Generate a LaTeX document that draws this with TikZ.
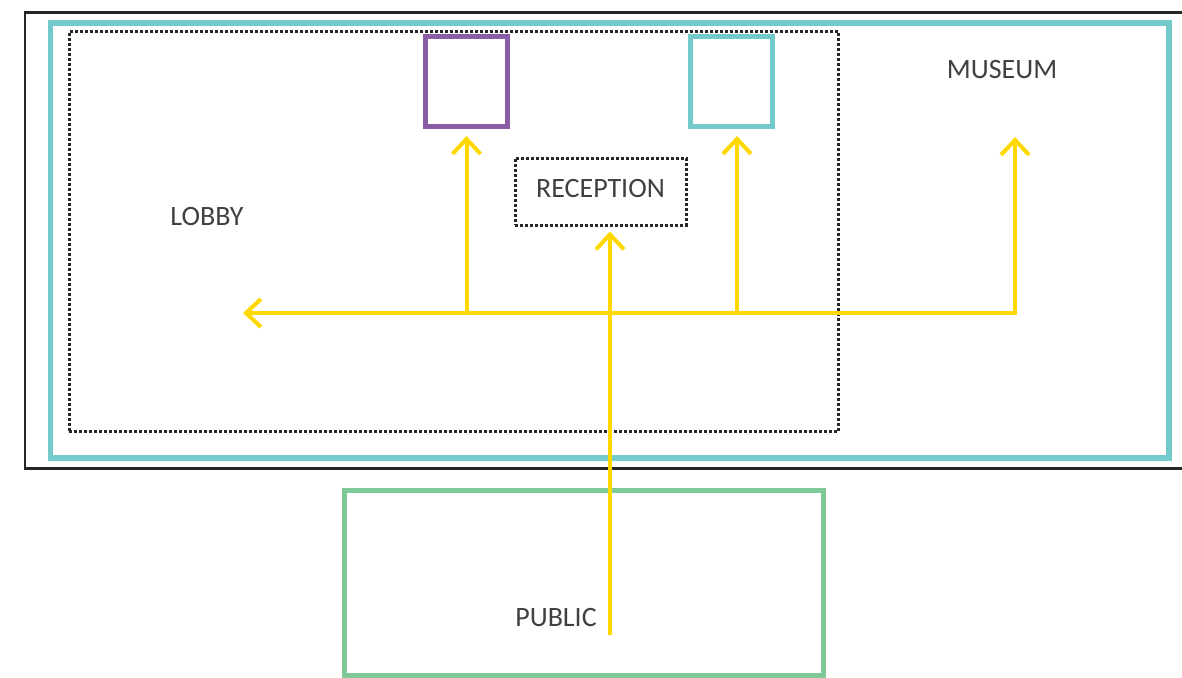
\documentclass[tikz,border=0pt]{standalone}
\usepackage{fontspec}
\setmainfont{Carlito}
\usetikzlibrary{positioning, arrows.meta}
\definecolor{museumteal}{RGB}{114,202,202}
\definecolor{exhibitpurple}{RGB}{137,92,165}
\definecolor{publicgreen}{RGB}{127,201,150}
\definecolor{routeyellow}{RGB}{255,216,0}
\definecolor{labelgray}{RGB}{64,64,64}
\tikzstyle{room} = [rectangle, draw, inner sep=0pt]
\tikzstyle{route} = [draw=routeyellow, line width=4pt, ->]
\tikzset{
	>={Straight Barb[length=15pt, width=28pt]},
	zone/.style={room, draw=black!85, line width=3pt, dash pattern=on 3.2pt off 1.8pt},
	roomname/.style={text=labelgray, font=\fontsize{28}{32}\selectfont},
}

\begin{document}
\begin{tikzpicture}[x=1pt, y=-1pt]
\useasboundingbox (0,0) rectangle (1182,677);

%building
\node [room, draw=black!85, line width=2.5pt, minimum width=1200pt, minimum height=456pt] (site) at (625,240.5) {};
\node [room, draw=museumteal, line width=5.5pt, minimum width=1118.5pt, minimum height=435pt] (museum) at (609.75,240.6) {};
\node [zone, minimum width=769.5pt, minimum height=400pt] (lobby) at (453.75,231.6) {};

%rooms
\node [room, draw=exhibitpurple, line width=5pt, minimum width=82pt, minimum height=90pt] (exhibit) at (466.5,81.5) {};
\node [room, draw=museumteal, line width=5pt, minimum width=82pt, minimum height=90pt] (gallery) at (731.25,81.5) {};
\node [zone, roomname, text depth=6pt, minimum width=171pt, minimum height=67pt] (reception) at (600.5,191.5) {RECEPTION};
\node [room, draw=publicgreen, line width=5pt, minimum width=479pt, minimum height=185pt] (public) at (583.5,582.5) {};

\node [roomname] (lobbyname) at (207,217) {LOBBY};
\node [roomname] (museumname) at (1002,70) {MUSEUM};
\node [roomname] (publicname) at (556,618) {PUBLIC};

%route
\coordinate (entry) at (610,635);
\coordinate (westend) at (243,313);
\coordinate (eastend) at (1015,313);
\coordinate (museumtip) at (1015,137);
\coordinate (fork1) at (466.5,313);
\coordinate (fork2) at (737,313);

\draw [route, shorten >=5pt] (entry) -- (reception.south -| entry);
\draw [route, <->] (westend) -- (eastend) -- (museumtip);
\foreach \fork/\room in {fork1/exhibit, fork2/gallery}
	\draw [route, shorten >=7pt] (\fork) -- (\fork |- \room.south);

\end{tikzpicture}
\end{document}
